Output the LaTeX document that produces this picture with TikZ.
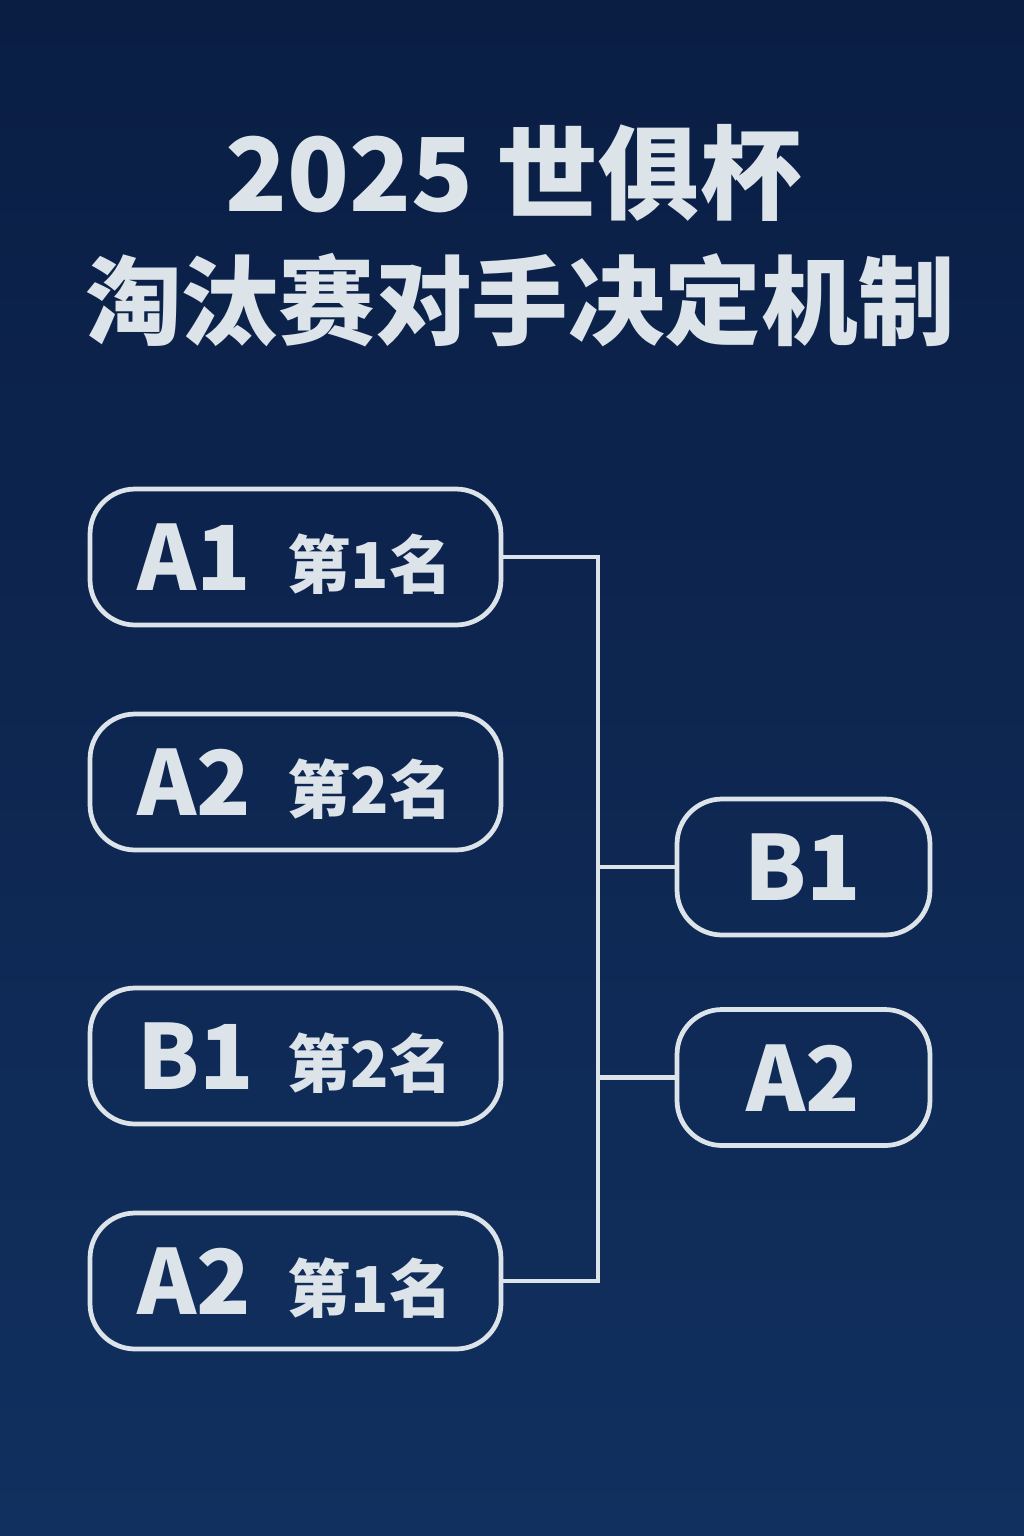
\documentclass[tikz,border=0pt]{standalone}
\usepackage{fontspec}
\setmainfont{Noto Sans CJK SC}
\definecolor{bgtop}{HTML}{0A1E44}
\definecolor{bgbot}{HTML}{11305F}
\definecolor{fg}{HTML}{DCE3E9}
\begin{document}
\begin{tikzpicture}[x=0.02cm,y=-0.02cm,
  lbox/.style={draw=fg, line width=2.7pt, rounded corners=0.9cm, minimum width=8.22cm, minimum height=2.72cm, inner sep=0pt, outer sep=0pt},
  rbox/.style={draw=fg, line width=2.7pt, rounded corners=0.9cm, minimum width=5.06cm, minimum height=2.72cm, inner sep=0pt, outer sep=0pt},
  big/.style={text=fg, font=\bfseries\fontsize{51}{51}\selectfont, inner sep=0pt, anchor=base},
  small/.style={text=fg, font=\bfseries\fontsize{36}{36}\selectfont, inner sep=0pt, anchor=base},
  ttla/.style={text=fg, font=\bfseries\fontsize{58}{58}\selectfont, inner sep=0pt},
  ttlb/.style={text=fg, font=\bfseries\fontsize{55}{55}\selectfont, inner sep=0pt},
  conn/.style={draw=fg, line width=2.7pt}]
\useasboundingbox (0,0) rectangle (1024,1536);
\shade[top color=bgtop, bottom color=bgbot] (0,0) rectangle (1024,1536);
% title
\node[ttla] (t1) at (514,173) {2025 世俱杯};
\node[ttlb] (t2) at (520,300) {淘汰赛对手决定机制};
% left boxes
\node[lbox] (l1) at (295.5,557) {};
\node[lbox] (l2) at (295.5,782) {};
\node[lbox] (l3) at (295.5,1056) {};
\node[lbox] (l4) at (295.5,1281) {};
\node[big] (l1a) at (194,590) {A1};
\node[small] (l1b) at (370,588) {第1名};
\node[big] (l2a) at (194,815) {A2};
\node[small] (l2b) at (370,813) {第2名};
\node[big] (l3a) at (196,1089) {B1};
\node[small] (l3b) at (370,1087) {第2名};
\node[big] (l4a) at (194,1314) {A2};
\node[small] (l4b) at (370,1312) {第1名};
% right boxes
\node[rbox] (r1) at (803.5,867) {};
\node[rbox] (r2) at (803.5,1077.5) {};
\node[big] (r1a) at (803,900) {B1};
\node[big] (r2a) at (803,1111) {A2};
% connectors
\coordinate (jt) at (598,557);
\coordinate (jb) at (598,1281);
\draw[conn] (l1.east) -- (jt) -- (jb) -- (l4.east);
\draw[conn] (r1.west) -- (jt |- r1.west);
\draw[conn] (r2.west) -- (jt |- r2.west);
\end{tikzpicture}
\end{document}
